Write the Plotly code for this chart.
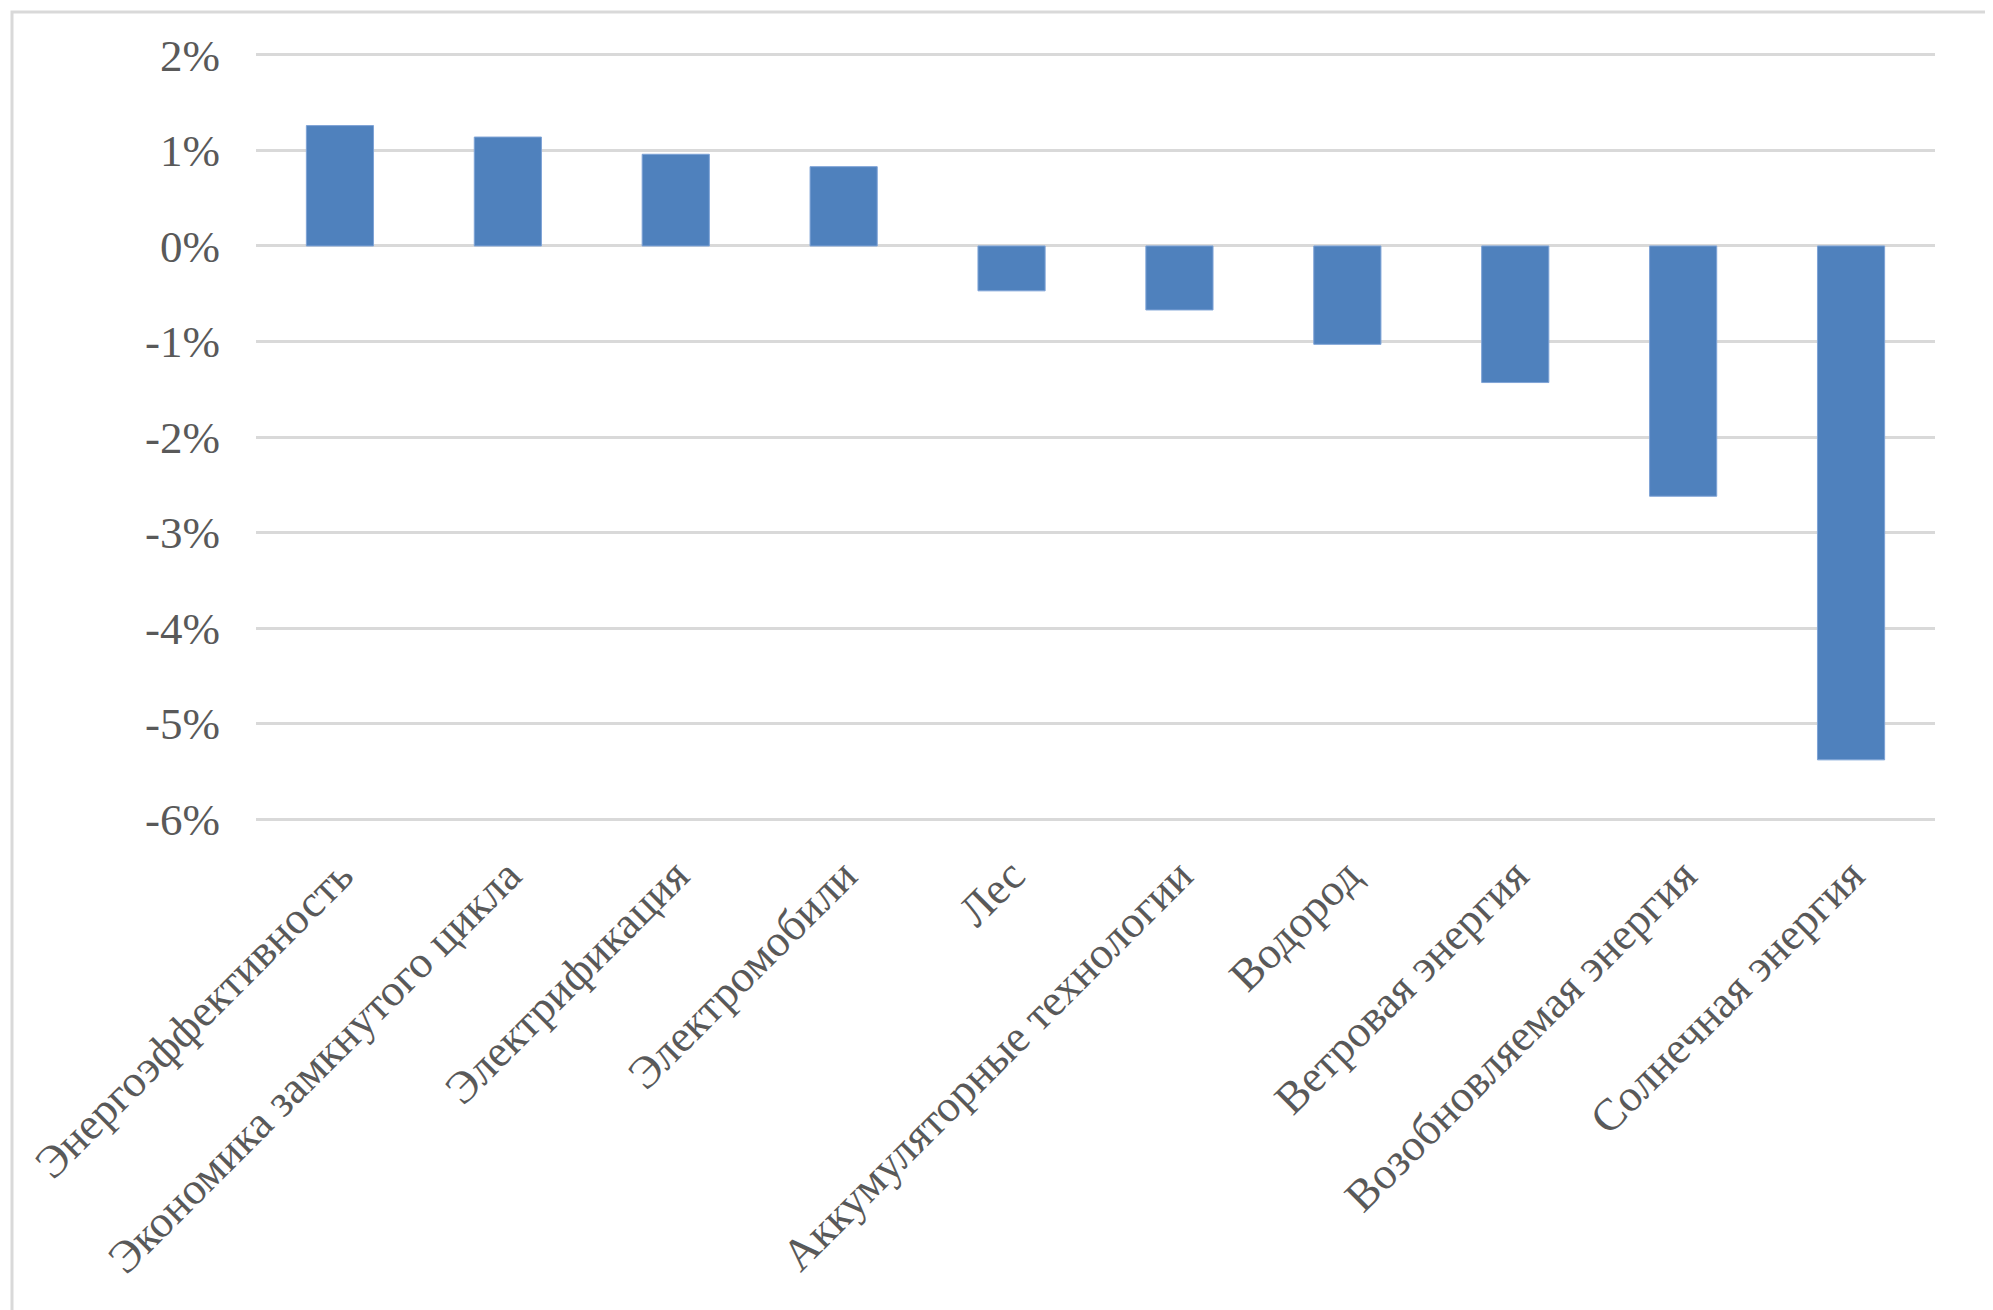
import plotly.graph_objects as go

categories = ["Энергоэффективность", "Экономика замкнутого цикла", "Электрификация",
              "Электромобили", "Лес", "Аккумуляторные технологии", "Водород",
              "Ветровая энергия", "Возобновляемая энергия", "Солнечная энергия"]
values = [1.26, 1.14, 0.96, 0.83, -0.47, -0.67, -1.03, -1.43, -2.62, -5.38]
tick_vals = [2, 1, 0, -1, -2, -3, -4, -5, -6]
tick_text = ["2%", "1%", "0%", "-1%", "-2%", "-3%", "-4%", "-5%", "-6%"]

W, H = 1993, 1310
L, R, T, B = 248, 66, 45, 497

fig = go.Figure(go.Bar(
    x=categories, y=values,
    marker=dict(color="#4f81bd", line=dict(color="#7ea3d6", width=1)),
    width=0.4,
))

font = dict(family="Liberation Serif, DejaVu Serif, serif", size=45, color="#595959")

fig.update_layout(
    width=W, height=H,
    margin=dict(l=L, r=R, t=T, b=B),
    paper_bgcolor="white", plot_bgcolor="white",
    showlegend=False,
    font=font,
    xaxis=dict(tickangle=-45, tickfont=font, showgrid=False, showline=False,
               ticks="", ticklabelstandoff=18),
    yaxis=dict(range=[-6.02, 2.02], tickvals=tick_vals, ticktext=tick_text, tickfont=font,
               showgrid=True, gridcolor="#d9d9d9", gridwidth=3,
               zeroline=True, zerolinecolor="#d9d9d9", zerolinewidth=3,
               showline=False, ticks="", ticklabelstandoff=35),
)

pw = W - L - R
ph = H - T - B
fig.add_shape(type="rect", xref="paper", yref="paper",
              x0=(4 - L) / pw, x1=(1988 - L) / pw,
              y0=(H - B - 1305) / ph, y1=(H - B - 4) / ph,
              line=dict(color="#d9d9d9", width=3), layer="below")

fig.write_html("out.html")
